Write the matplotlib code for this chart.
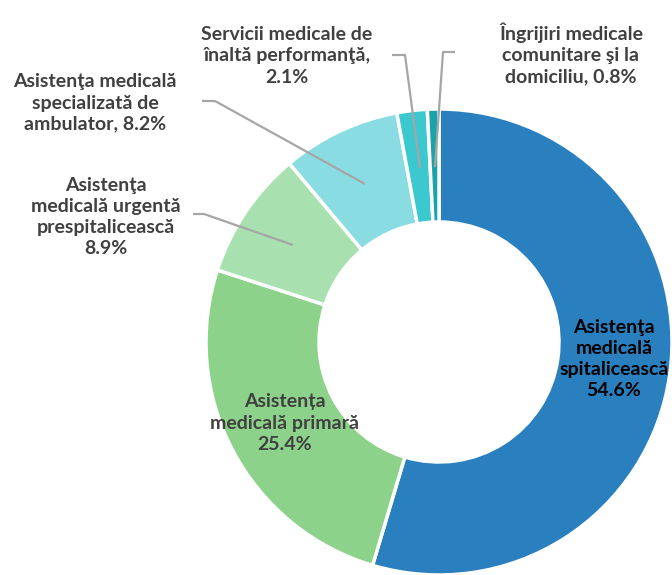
import matplotlib
matplotlib.use("Agg")
import matplotlib.pyplot as plt

categories = [
    "Asistenţa medicală spitalicească",
    "Asistența medicală primară",
    "Asistenţa medicală urgentă prespitalicească",
    "Asistenţa medicală specializată de ambulator",
    "Servicii medicale de înaltă performanţă",
    "Îngrijiri medicale comunitare şi la domiciliu",
]
values = [54.6, 25.4, 8.9, 8.2, 2.1, 0.8]
colors = ["#2A7FBF", "#8DD28A", "#A8E0B0", "#89DDE2", "#3CC8CF", "#1AA3A8"]

label_texts = [
    "Asistenţa\nmedicală\nspitalicească\n{:.1f}%",
    "Asistența\nmedicală primară\n{:.1f}%",
    "Asistenţa\nmedicală urgentă\nprespitalicească\n{:.1f}%",
    "Asistenţa medicală\nspecializată de\nambulator, {:.1f}%",
    "Servicii medicale de\nînaltă performanţă,\n{:.1f}%",
    "Îngrijiri medicale\ncomunitare şi la\ndomiciliu, {:.1f}%",
]

plt.rcParams['font.family'] = ['Lato', 'DejaVu Sans']

W, H = 672, 575
fig = plt.figure(figsize=(W / 100, H / 100), dpi=100)
ax = fig.add_axes([0, 0, 1, 1])

cx, cy, R = 439, H - 342, 233
ax.pie(values, colors=colors, center=(cx, cy), radius=R, startangle=90,
       counterclock=False,
       wedgeprops=dict(width=R * 0.485, edgecolor="white", linewidth=2.5))
ax.set_xlim(0, W)
ax.set_ylim(0, H)
ax.set_aspect("equal")
ax.axis("off")

def Y(y):
    return H - y

# label positions (pixel coords from top)
pos = [(614, 359), (285, 423), (106, 217), (95, 103), (287, 56), (571, 54)]
tcol = ["#000000", "#404040", "#404040", "#404040", "#404040", "#404040"]
for txt, v, (x, y), c in zip(label_texts, values, pos, tcol):
    ax.text(x, Y(y), txt.format(v), ha="center", va="center", fontsize=14,
            fontweight="bold", color=c, linespacing=1.3)

lc = "#A6A6A6"
leaders = [
    [(202, 101), (215, 101), (365, 184)],
    [(193, 214), (204, 214), (293, 245)],
    [(392, 55), (405, 55), (420, 168)],
    [(455, 52), (443, 52), (435, 167)],
]
for pts in leaders:
    xs = [p[0] for p in pts]
    ys = [Y(p[1]) for p in pts]
    ax.plot(xs, ys, color=lc, lw=1.6, solid_capstyle="butt")

fig.savefig("out.png", dpi=100)
